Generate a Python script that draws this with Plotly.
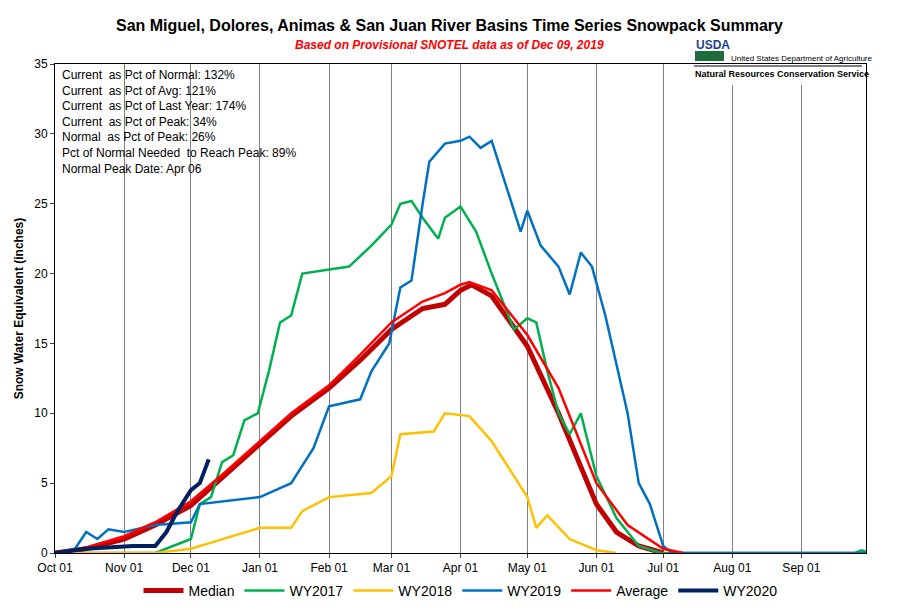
import plotly.graph_objects as go
from datetime import date

def d(m, dd):
    y = 2000 if m >= 10 else 2001
    return date(y, m, dd).isoformat()

median_pts = [(10,1,0),(10,15,0.3),(11,1,1.0),(11,15,2.0),(12,1,3.4),(12,15,5.4),(1,1,7.8),(1,15,9.8),(2,1,11.8),(2,15,13.8),(3,1,16.0),(3,15,17.5),(3,25,17.8),(4,1,18.8),(4,6,19.2),(4,15,18.4),(5,1,14.8),(5,15,10.0),(6,1,3.5),(6,10,1.5),(6,20,0.5),(7,1,0)]
average_pts = [(10,1,0),(10,15,0.4),(11,1,1.2),(11,15,2.2),(12,1,3.7),(12,15,5.6),(1,1,8.0),(1,15,10.0),(2,1,12.0),(2,15,14.2),(3,1,16.5),(3,15,18.0),(3,25,18.6),(4,1,19.2),(4,5,19.4),(4,15,18.8),(5,1,15.6),(5,15,11.8),(6,1,5.0),(6,15,2.0),(7,1,0.3),(7,10,0)]
wy2017_pts = [(10,1,0),(11,15,0),(12,1,1.0),(12,5,3.5),(12,10,4.0),(12,15,6.5),(12,20,7.0),(12,25,9.5),(12,31,10.0),(1,5,13.0),(1,10,16.5),(1,15,17.0),(1,20,20.0),(2,1,20.3),(2,10,20.5),(2,20,22.0),(3,1,23.5),(3,5,25.0),(3,10,25.2),(3,15,24.0),(3,22,22.5),(3,25,24.0),(4,1,24.8),(4,8,23.0),(4,15,20.0),(4,25,16.0),(5,1,16.8),(5,5,16.5),(5,10,13.0),(5,15,10.0),(5,20,8.5),(5,25,10.0),(6,1,5.5),(6,10,2.5),(6,20,0.5),(6,30,0),(9,25,0),(9,28,0.2),(9,30,0.1)]
wy2018_pts = [(10,1,0),(11,15,0),(12,1,0.3),(12,15,1.0),(1,1,1.8),(1,15,1.8),(1,20,3.0),(2,1,4.0),(2,20,4.3),(3,1,5.5),(3,5,8.5),(3,20,8.7),(3,25,10.0),(4,5,9.8),(4,15,8.0),(5,1,4.0),(5,5,1.8),(5,10,2.7),(5,20,1.0),(6,1,0.2),(6,10,0)]
wy2019_pts = [(10,1,0),(10,10,0.3),(10,15,1.5),(10,20,1.0),(10,25,1.7),(11,1,1.5),(11,15,2.0),(12,1,2.2),(12,5,3.5),(12,15,3.7),(1,1,4.0),(1,15,5.0),(1,25,7.5),(2,1,10.5),(2,15,11.0),(2,20,13.0),(2,28,15.0),(3,5,19.0),(3,10,19.5),(3,15,25.0),(3,18,28.0),(3,25,29.3),(4,1,29.5),(4,5,29.8),(4,10,29.0),(4,15,29.5),(4,20,27.0),(4,28,23.0),(5,1,24.5),(5,7,22.0),(5,15,20.5),(5,20,18.5),(5,25,21.5),(5,30,20.5),(6,5,17.0),(6,15,10.0),(6,20,5.0),(6,25,3.5),(7,1,0.5),(7,5,0),(9,30,0)]
wy2020_pts = [(10,1,0),(10,15,0.3),(11,5,0.5),(11,15,0.5),(11,20,1.5),(11,25,3.0),(12,1,4.5),(12,5,5.0),(12,9,6.7)]

series = [
    ("Median", median_pts, "#C00000", 5),
    ("WY2017", wy2017_pts, "#00B050", 2.5),
    ("WY2018", wy2018_pts, "#FFC000", 2.5),
    ("WY2019", wy2019_pts, "#0070C0", 2.5),
    ("Average", average_pts, "#FF0000", 2.5),
    ("WY2020", wy2020_pts, "#002060", 4),
]

stats = ["Current  as Pct of Normal: 132%", "Current  as Pct of Avg: 121%",
         "Current  as Pct of Last Year: 174%", "Current  as Pct of Peak: 34%",
         "Normal  as Pct of Peak: 26%", "Pct of Normal Needed  to Reach Peak: 89%",
         "Normal Peak Date: Apr 06"]

tickvals = [d(m, 1) for m in [10,11,12,1,2,3,4,5,6,7,8,9]]
ticktext = ["Oct 01","Nov 01","Dec 01","Jan 01","Feb 01","Mar 01","Apr 01","May 01","Jun 01","Jul 01","Aug 01","Sep 01"]

fig = go.Figure()
for name, pts, col, w in series:
    fig.add_trace(go.Scatter(x=[d(m, dd) for m, dd, v in pts], y=[v for m, dd, v in pts],
                             mode="lines", name=name, line=dict(color=col, width=w)))

PW, PH, L, BOT = 811, 489, 55, 552
def px(x): return (x - L) / PW
def py(y): return (BOT - y) / PH

fig.update_layout(
    width=898, height=611, paper_bgcolor="white", plot_bgcolor="white",
    font=dict(family="Liberation Sans, Arial", size=12, color="black"),
    margin=dict(l=47, r=40, t=56, b=66, autoexpand=False),
    xaxis=dict(type="date", range=[d(10,1), d(9,30)], tickvals=tickvals, ticktext=ticktext,
               showgrid=True, gridcolor="#808080", gridwidth=1, showline=True, linecolor="black",
               mirror=True, ticks="outside", ticklen=4, tickfont=dict(size=12), automargin=False),
    yaxis=dict(range=[0, 35], dtick=5, showgrid=False, showline=True, linecolor="black", mirror=True,
               ticks="outside", ticklen=4, automargin=False,
               title=dict(text="<b>Snow Water Equivalent (inches)</b>", font=dict(size=12), standoff=8)),
    legend=dict(orientation="h", x=0.5, xanchor="center", y=-0.045, yanchor="top", font=dict(size=14),
                itemwidth=40),
)
def ann(text, x, y, size, color="black", xanchor="center"):
    fig.add_annotation(text=text, xref="paper", yref="paper", x=px(x), y=py(y), xanchor=xanchor,
                       yanchor="middle", showarrow=False, font=dict(size=size, color=color))

ann("<b>San Miguel, Dolores, Animas & San Juan River Basins Time Series Snowpack Summary</b>", 449, 24, 16)
ann("<b><i>Based on Provisional SNOTEL data as of Dec 09, 2019</i></b>", 449, 44, 12, "#FF0000")
fig.add_annotation(text="<br>".join(stats), xref="paper", yref="paper", x=0.006, y=0.995,
                   xanchor="left", yanchor="top", align="left", showarrow=False, font=dict(size=12))
# logo block
fig.add_shape(type="rect", xref="paper", yref="paper", x0=px(688), x1=px(866), y0=py(84), y1=py(63),
              fillcolor="white", line=dict(width=0), layer="above")
fig.add_shape(type="line", xref="paper", yref="paper", x0=px(694), x1=px(862), y0=py(65), y1=py(65),
              line=dict(color="#555", width=1.5), layer="above")
fig.add_shape(type="rect", xref="paper", yref="paper", x0=px(695), x1=px(724), y0=py(60), y1=py(50),
              fillcolor="#1E6B3C", line=dict(width=0))
ann("<b>USDA</b>", 694, 44, 12, "#1F3F8F", "left")
ann("United States Department of Agriculture", 729, 57, 8, "black", "left")
ann("<b>Natural Resources Conservation Service</b>", 693, 73, 9, "black", "left")
fig.write_html("out.html")
